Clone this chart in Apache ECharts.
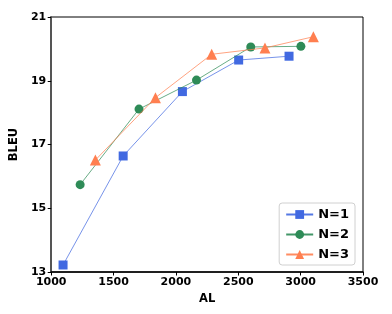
<!DOCTYPE html>
<html><head><meta charset="utf-8">
<script src="https://cdn.jsdelivr.net/npm/echarts@6/dist/echarts.min.js"></script>
<style>html,body{margin:0;padding:0;background:#fff}#c{width:392px;height:314px}</style>
</head><body><div id="c"></div>
<script>
const seriesNames = ['N=1', 'N=2', 'N=3'];
const alN1 = [1095, 1577, 2052, 2503, 2907];
const bleuN1 = [13.22, 16.64, 18.66, 19.65, 19.77];
const alN2 = [1232, 1704, 2165, 2600, 3002];
const bleuN2 = [15.74, 18.11, 19.02, 20.06, 20.08];
const alN3 = [1354, 1836, 2287, 2714, 3102];
const bleuN3 = [16.51, 18.47, 19.83, 20.03, 20.38];
const xTicks = [1000, 1500, 2000, 2500, 3000, 3500];
const yTicks = [13, 15, 17, 19, 21];

const colors = ['#4169E1', '#2E8B57', '#FF7F50'];
const symbols = ['rect', 'circle', 'triangle'];
const symSizes = [9, 9, 11];
const xs = [alN1, alN2, alN3];
const ys = [bleuN1, bleuN2, bleuN3];

const font = 'DejaVu Sans';
const chart = echarts.init(document.getElementById('c'), null, {renderer: 'canvas'});
chart.setOption({
  animation: false,
  backgroundColor: '#fff',
  grid: {left: 47, right: 29, top: 17, bottom: 42, show: true, borderColor: '#000', borderWidth: 1},
  xAxis: {
    type: 'value', min: xTicks[0], max: xTicks[xTicks.length - 1], interval: 500,
    name: 'AL', nameLocation: 'middle', nameGap: 19,
    nameTextStyle: {fontFamily: font, fontWeight: 'bold', fontSize: 11.5, color: '#000'},
    axisLine: {show: true, lineStyle: {color: '#000', width: 1.5}},
    axisTick: {show: true, length: 3.5, lineStyle: {color: '#000'}},
    axisLabel: {fontFamily: font, fontWeight: 'bold', fontSize: 11, color: '#000', margin: 5,
      formatter: v => String(v)},
    splitLine: {show: false}
  },
  yAxis: {
    type: 'value', min: yTicks[0], max: yTicks[yTicks.length - 1], interval: 2,
    name: 'BLEU', nameLocation: 'middle', nameGap: 22,
    nameTextStyle: {fontFamily: font, fontWeight: 'bold', fontSize: 11.5, color: '#000'},
    axisLine: {show: true, lineStyle: {color: '#555', width: 2}},
    axisTick: {show: true, length: 3.5, lineStyle: {color: '#000'}},
    axisLabel: {fontFamily: font, fontWeight: 'bold', fontSize: 11, color: '#000', margin: 5,
      formatter: v => String(v)},
    splitLine: {show: false}
  },
  legend: {
    orient: 'vertical', right: 37, bottom: 49,
    backgroundColor: '#fff',
    borderColor: '#d0d0d0', borderWidth: 1, borderRadius: 3,
    padding: [5, 6, 4, 6], itemGap: 7,
    itemWidth: 27, itemHeight: 11,
    textStyle: {fontFamily: font, fontWeight: 'bold', fontSize: 13, color: '#000'},
    data: seriesNames
  },
  series: seriesNames.map((n, i) => ({
    name: n, type: 'line',
    data: xs[i].map((x, j) => [x, ys[i][j]]),
    symbol: symbols[i], symbolSize: symSizes[i],
    itemStyle: {color: colors[i]},
    lineStyle: {color: colors[i], width: 0.8, opacity: 0.9},
    z: 2 + i
  }))
});
</script></body></html>
